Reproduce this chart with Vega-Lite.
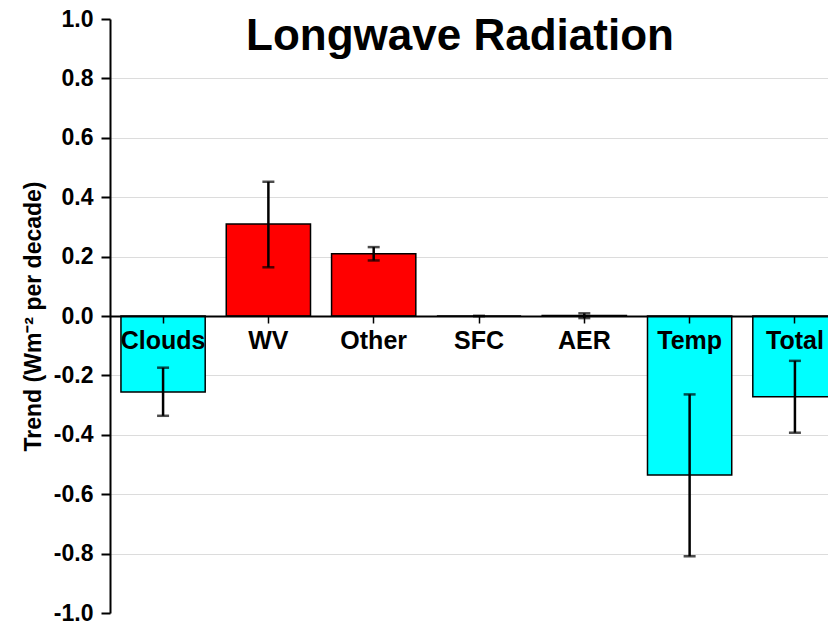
{
  "$schema": "https://vega.github.io/schema/vega-lite/v6.json",
  "width": 738,
  "height": 594,
  "autosize": {"type": "none"},
  "padding": {"left": 110, "top": 19, "right": 0, "bottom": 11},
  "background": "white",
  "config": {
    "view": {"stroke": null},
    "font": "Liberation Sans"
  },
  "title": {
    "text": "Longwave Radiation",
    "font": "Liberation Sans",
    "fontSize": 44,
    "fontWeight": "bold",
    "color": "black",
    "anchor": "middle",
    "dx": -19,
    "offset": -51
  },
  "data": {
    "values": [
      {"cat": "Clouds", "value": -0.256, "lo": -0.336, "hi": -0.174},
      {"cat": "WV", "value": 0.31, "lo": 0.164, "hi": 0.452},
      {"cat": "Other", "value": 0.21, "lo": 0.187, "hi": 0.232},
      {"cat": "SFC", "value": 0.0, "lo": 0.0, "hi": 0.0},
      {"cat": "AER", "value": 0.002, "lo": -0.007, "hi": 0.009},
      {"cat": "Temp", "value": -0.535, "lo": -0.809, "hi": -0.264},
      {"cat": "Total", "value": -0.272, "lo": -0.393, "hi": -0.151}
    ]
  },
  "encoding": {
    "x": {
      "field": "cat",
      "type": "nominal",
      "sort": null,
      "scale": {"paddingInner": 0.2, "paddingOuter": 0.104},
      "axis": {
        "title": null,
        "orient": "bottom",
        "offset": -297,
        "domainColor": "black",
        "domainWidth": 2,
        "tickColor": "black",
        "tickWidth": 1.5,
        "tickSize": 7,
        "labelAngle": 0,
        "labelFont": "Liberation Sans",
        "labelFontSize": 25,
        "labelFontWeight": "bold",
        "labelColor": "black",
        "labelPadding": 5,
        "zindex": 2
      }
    }
  },
  "layer": [
    {
      "mark": {"type": "bar", "stroke": "black", "strokeWidth": 1.5},
      "encoding": {
        "y": {
          "field": "value",
          "type": "quantitative",
          "scale": {"domain": [-1, 1], "nice": false, "zero": false},
          "axis": {
            "title": "Trend (Wm⁻² per decade)",
            "titleFont": "Liberation Sans",
            "titleFontSize": 23,
            "titleFontWeight": "bold",
            "titleColor": "black",
            "titlePadding": 8,
            "values": [-1, -0.9, -0.8, -0.7, -0.6, -0.5, -0.4, -0.3, -0.2, -0.1, 0, 0.1, 0.2, 0.3, 0.4, 0.5, 0.6, 0.7, 0.8, 0.9, 1],
            "labelExpr": "round(datum.value*10) % 2 != 0 ? '' : replace(format(datum.value, '.1f'), '\u2212', '-')",
            "labelFont": "Liberation Sans",
            "labelFontSize": 23,
            "labelFontWeight": "bold",
            "labelColor": "black",
            "labelPadding": 8,
            "labelOverlap": false,
            "domainColor": "black",
            "domainWidth": 2,
            "tickColor": "black",
            "tickWidth": 2,
            "tickSize": {"condition": {"test": "round(datum.value*10) % 2 != 0", "value": 4}, "value": 9},
            "grid": true,
            "gridColor": "#dcdcdc",
            "gridWidth": 1.2,
            "gridOpacity": {"condition": {"test": "round(datum.value*10) % 2 != 0 || abs(datum.value) > 0.99 || abs(datum.value) < 0.01", "value": 0}, "value": 1}
          }
        },
        "color": {"condition": {"test": "datum.value < 0", "value": "#00ffff"}, "value": "#ff0000"}
      }
    },
    {
      "mark": {"type": "rule", "color": "black", "strokeWidth": 2.5},
      "encoding": {
        "y": {"field": "lo", "type": "quantitative"},
        "y2": {"field": "hi"}
      }
    },
    {
      "mark": {"type": "tick", "color": "black", "thickness": 2.5, "size": 12, "orient": "horizontal"},
      "encoding": {
        "y": {"field": "lo", "type": "quantitative"}
      }
    },
    {
      "mark": {"type": "tick", "color": "black", "thickness": 2.5, "size": 12, "orient": "horizontal"},
      "encoding": {
        "y": {"field": "hi", "type": "quantitative"}
      }
    }
  ]
}
